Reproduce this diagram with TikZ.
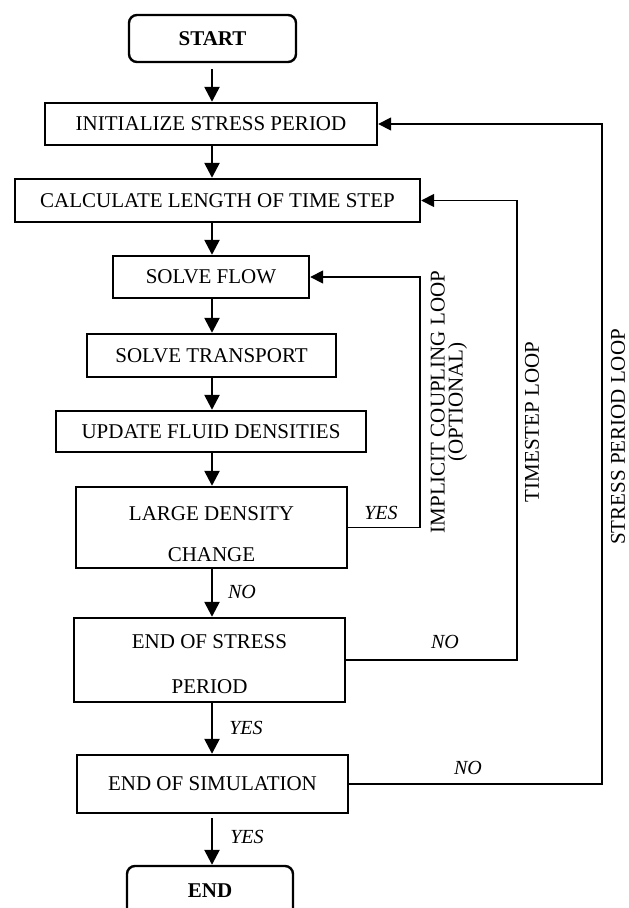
\documentclass[tikz,border=0pt]{standalone}
\usepackage{fontspec}
\setmainfont{Liberation Serif}
\usetikzlibrary{arrows.meta}
\begin{document}
\begin{tikzpicture}[x=1pt,y=-1pt,
  box/.style={draw,line width=2.4pt,rectangle,inner sep=0pt,align=center,
    font=\fontsize{21}{42}\selectfont},
  term/.style={box,rounded corners=8pt,font=\fontsize{21}{25}\selectfont\bfseries},
  boxtext/.style={inner sep=0pt,align=center},
  flowarrow/.style={line width=2.5pt,-{Triangle[length=15pt,width=15pt]}},
  looparrow/.style={line width=1.7pt,-{Triangle[length=13pt,width=13pt]}},
  lbl/.style={inner sep=0pt,font=\fontsize{20}{24}\selectfont\itshape},
  looplbl/.style={inner sep=0pt,rotate=90,align=center,font=\fontsize{21}{18}\selectfont}]
\useasboundingbox (0,0) rectangle (629,908);
\fill[white] (0,0) rectangle (629,908);
% nodes
\node[term,minimum width=167pt,minimum height=47pt] (start) at (212.5,38.5) {START};
\node[box,minimum width=332pt,minimum height=42pt] (init) at (211,124) {INITIALIZE STRESS PERIOD};
\node[box,minimum width=405pt,minimum height=43pt] (calc) at (217.5,200.5) {CALCULATE LENGTH OF TIME STEP};
\node[box,minimum width=196pt,minimum height=42pt] (flow) at (211,277) {SOLVE FLOW};
\node[box,minimum width=249pt,minimum height=43pt] (trans) at (211.5,355.5) {SOLVE TRANSPORT};
\node[box,minimum width=310pt,minimum height=41pt] (upd) at (211,431.5) {UPDATE FLUID DENSITIES};
\node[box,minimum width=271pt,minimum height=81pt] (large) at (211.5,527.5) {};
\node[boxtext,font=\fontsize{21}{41}\selectfont] (largetxt) at ([yshift=-6.5pt]large.center) {LARGE DENSITY\\CHANGE};
\node[box,minimum width=271pt,minimum height=84pt] (eosp) at (209.5,660) {};
\node[boxtext,font=\fontsize{21}{45}\selectfont] (eosptxt) at ([yshift=-4.5pt]eosp.center) {END OF STRESS\\PERIOD};
\node[box,minimum width=271pt,minimum height=58pt] (eosim) at (212.5,784) {END OF SIMULATION};
\node[term,minimum width=166pt,minimum height=50pt] (end) at (210,891) {END};
% flow column and loop corners
\coordinate (col) at (212,0);
\coordinate (cpl) at (420,277);
\coordinate (tsc) at (517,200.5);
\coordinate (spc) at (602,124);
% main flow
\draw[flowarrow,shorten <=6pt] (col |- start.south) -- (col |- init.north);
\draw[flowarrow] (col |- init.south) -- (col |- calc.north);
\draw[flowarrow] (col |- calc.south) -- (col |- flow.north);
\draw[flowarrow] (col |- flow.south) -- (col |- trans.north);
\draw[flowarrow] (col |- trans.south) -- (col |- upd.north);
\draw[flowarrow] (col |- upd.south) -- (col |- large.north);
\draw[flowarrow] (col |- large.south) -- (col |- eosp.north);
\draw[flowarrow] (col |- eosp.south) -- (col |- eosim.north);
\draw[flowarrow,shorten <=4pt] (col |- eosim.south) -- (col |- end.north);
% loops
\draw[looparrow] (large.east) -| (cpl) -- (flow.east);
\draw[looparrow] (eosp.east) -| (tsc) -- (calc.east);
\draw[looparrow] (eosim.east) -| (spc) -- (init.east);
% labels
\node[lbl] (lyes1) at (381,513) {YES};
\node[lbl] (lno1) at (242,592) {NO};
\node[lbl] (lyes2) at (246,728) {YES};
\node[lbl] (lno2) at (445,642) {NO};
\node[lbl] (lno3) at (468,768) {NO};
\node[lbl] (lyes3) at (247,837) {YES};
\node[looplbl] (limp) at (449,402) {IMPLICIT COUPLING LOOP\\(OPTIONAL)};
\node[looplbl] (lts) at (532,422) {TIMESTEP LOOP};
\node[looplbl] (lsp) at (618,437) {STRESS PERIOD LOOP};
\end{tikzpicture}
\end{document}
